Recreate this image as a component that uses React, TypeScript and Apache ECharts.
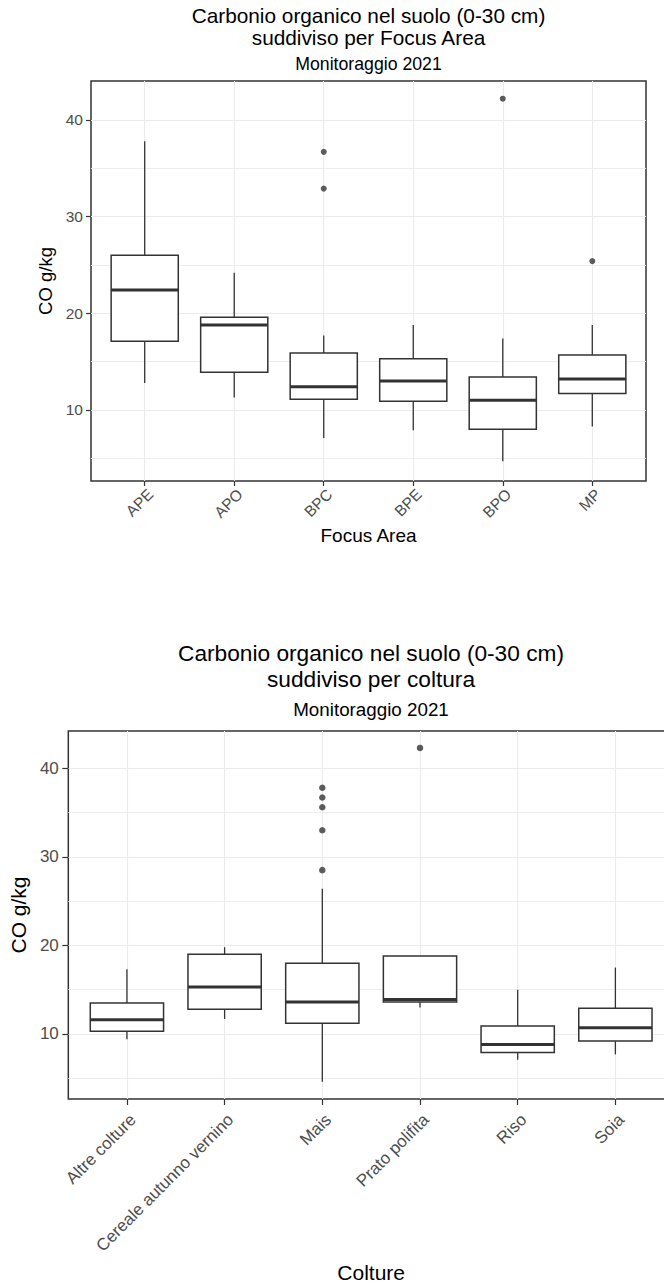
import React, { useEffect, useRef } from 'react';
import * as echarts from 'echarts';

// ---- Data: Focus Area chart ----
const focusAreas = ['APE', 'APO', 'BPC', 'BPE', 'BPO', 'MP'];
const focusLow = [12.8, 11.3, 7.1, 7.9, 4.7, 8.3];
const focusQ1 = [17.1, 13.9, 11.1, 10.9, 8.0, 11.7];
const focusMedian = [22.4, 18.8, 12.4, 13.0, 11.0, 13.2];
const focusQ3 = [26.0, 19.6, 15.9, 15.3, 13.4, 15.7];
const focusHigh = [37.8, 24.2, 17.7, 18.8, 17.4, 18.8];
const focusOutlierCats = ['BPC', 'BPC', 'BPO', 'MP'];
const focusOutlierValues = [36.7, 32.9, 42.2, 25.4];

// ---- Data: Colture chart ----
const crops = ['Altre colture', 'Cereale autunno vernino', 'Mais', 'Prato polifita', 'Riso', 'Soia'];
const cropLow = [9.4, 11.7, 4.6, 13.0, 7.1, 7.7];
const cropQ1 = [10.3, 12.8, 11.2, 13.6, 7.9, 9.2];
const cropMedian = [11.6, 15.3, 13.6, 13.9, 8.8, 10.7];
const cropQ3 = [13.5, 19.0, 18.0, 18.8, 10.9, 12.9];
const cropHigh = [17.3, 19.8, 26.4, 18.8, 15.0, 17.5];
const cropOutlierCats = ['Mais', 'Mais', 'Mais', 'Mais', 'Mais', 'Prato polifita'];
const cropOutlierValues = [37.8, 36.7, 35.6, 33.0, 28.5, 42.3];

// ---- Tick labels ----
const yTicks = [10, 20, 30, 40];
const yMinorTicks = [5, 15, 25, 35];

const FONT = "'Liberation Sans', Arial, Helvetica, sans-serif";
const DARK = '#333333';
const GRID = '#ebebeb';

function renderBox(params: any, api: any) {
  const x = api.value(0);
  const lo = api.coord([x, api.value(1)]);
  const q1 = api.coord([x, api.value(2)]);
  const md = api.coord([x, api.value(3)]);
  const q3 = api.coord([x, api.value(4)]);
  const hi = api.coord([x, api.value(5)]);
  const w = api.size([0.75, 0], [x, api.value(3)])[0];
  return {
    type: 'group',
    children: [
      { type: 'line', shape: { x1: lo[0], y1: lo[1], x2: q1[0], y2: q1[1] }, style: { stroke: DARK, lineWidth: 1.3 } },
      { type: 'line', shape: { x1: q3[0], y1: q3[1], x2: hi[0], y2: hi[1] }, style: { stroke: DARK, lineWidth: 1.3 } },
      { type: 'rect', shape: { x: md[0] - w / 2, y: q3[1], width: w, height: q1[1] - q3[1] }, style: { fill: '#ffffff', stroke: DARK, lineWidth: 1.5 } },
      { type: 'line', shape: { x1: md[0] - w / 2, y1: md[1], x2: md[0] + w / 2, y2: md[1] }, style: { stroke: DARK, lineWidth: 3 } },
    ],
  };
}

function buildPanel(idx: number, cats: string[], low: number[], q1: number[], med: number[], q3: number[], high: number[],
  outCats: string[], outVals: number[], cfg: any) {
  const catPos = cats.map((_, i) => i + 1);
  const grid = { left: cfg.left, top: cfg.top, width: cfg.width, height: cfg.height, show: true, borderColor: DARK, borderWidth: 1.5, backgroundColor: '#fff', containLabel: false };
  const xAxis = {
    type: 'value', gridIndex: idx, min: 0.4, max: 6.6,
    name: cfg.xName, nameLocation: 'middle', nameGap: cfg.xNameGap,
    nameTextStyle: { fontSize: cfg.xNameFont, color: '#000', fontFamily: FONT },
    axisLine: { show: false },
    axisTick: { show: true, customValues: catPos, length: cfg.tickLen, lineStyle: { color: DARK, width: 1.2 } },
    axisLabel: {
      customValues: catPos, rotate: 45, align: 'right', verticalAlign: 'top', margin: cfg.xLabelMargin,
      fontSize: cfg.tickFont, color: '#4d4d4d', fontFamily: FONT,
      formatter: (v: number) => cats[Math.round(v) - 1] || '',
    },
    splitLine: { show: true, lineStyle: { color: GRID, width: 1.1 } },
  };
  const yAxes = [
    {
      type: 'value', gridIndex: idx, min: cfg.yMin, max: cfg.yMax,
      name: 'CO g/kg', nameLocation: 'middle', nameGap: cfg.yNameGap,
      nameTextStyle: { fontSize: cfg.yNameFont, color: '#000', fontFamily: FONT },
      axisLine: { show: false },
      axisTick: { show: true, customValues: yTicks, length: cfg.tickLen, lineStyle: { color: DARK, width: 1.2 } },
      axisLabel: { customValues: yTicks, margin: cfg.yLabelMargin, fontSize: cfg.tickFont, color: '#4d4d4d', fontFamily: FONT },
      splitLine: { show: true, lineStyle: { color: GRID, width: 1.1 } },
    },
    {
      type: 'value', gridIndex: idx, min: cfg.yMin, max: cfg.yMax, position: 'left',
      axisLine: { show: false },
      axisTick: { show: false, customValues: yMinorTicks },
      axisLabel: { show: false, customValues: yMinorTicks },
      splitLine: { show: true, lineStyle: { color: GRID, width: 0.9 } },
    },
  ];
  const series = [
    {
      type: 'custom', xAxisIndex: idx, yAxisIndex: idx * 2, z: 2,
      renderItem: renderBox,
      encode: { x: 0, y: [1, 2, 3, 4, 5] },
      data: cats.map((_, i) => [i + 1, low[i], q1[i], med[i], q3[i], high[i]]),
    },
    {
      type: 'scatter', xAxisIndex: idx, yAxisIndex: idx * 2, z: 3,
      symbol: 'circle', symbolSize: cfg.outlierSize,
      itemStyle: { color: DARK },
      data: outCats.map((c, i) => [cats.indexOf(c) + 1, outVals[i]]),
    },
  ];
  const cx = cfg.left + cfg.width / 2;
  const titles = [
    {
      text: cfg.title, left: cx, top: cfg.titleTop, textAlign: 'center', padding: 0,
      textStyle: { fontSize: cfg.titleFont, lineHeight: cfg.titleLH, fontWeight: 'normal', color: '#000', fontFamily: FONT },
    },
    {
      text: 'Monitoraggio 2021', left: cx, top: cfg.subTop, textAlign: 'center', padding: 0,
      textStyle: { fontSize: cfg.subFont, lineHeight: 20, fontWeight: 'normal', color: '#000', fontFamily: FONT },
    },
  ];
  return { grid, xAxis, yAxes, series, titles };
}

export default function App() {
  const ref = useRef<HTMLDivElement>(null);
  useEffect(() => {
    if (!ref.current) return;
    const chart = echarts.init(ref.current, undefined, { renderer: 'svg' });
    const p1 = buildPanel(0, focusAreas, focusLow, focusQ1, focusMedian, focusQ3, focusHigh, focusOutlierCats, focusOutlierValues, {
      left: 91, top: 81, width: 555, height: 400, yMin: 2.655, yMax: 44.03,
      tickFont: 15.5, tickLen: 5, xLabelMargin: 5, yLabelMargin: 8,
      xName: 'Focus Area', xNameGap: 45, xNameFont: 19, yNameGap: 25, yNameFont: 18.5, outlierSize: 6,
      title: 'Carbonio organico nel suolo (0-30 cm)\nsuddiviso per Focus Area', titleTop: 4.4, titleFont: 20.8, titleLH: 22.3,
      subTop: 54.3, subFont: 17.7,
    });
    const p2 = buildPanel(1, crops, cropLow, cropQ1, cropMedian, cropQ3, cropHigh, cropOutlierCats, cropOutlierValues, {
      left: 68, top: 731, width: 606, height: 368, yMin: 2.66, yMax: 44.21,
      tickFont: 17, tickLen: 6, xLabelMargin: 12, yLabelMargin: 9.5,
      xName: 'Colture', xNameGap: 163, xNameFont: 21, yNameGap: 28, yNameFont: 21, outlierSize: 6.5,
      title: 'Carbonio organico nel suolo (0-30 cm)\nsuddiviso per coltura', titleTop: 639.8, titleFont: 22.7, titleLH: 26,
      subTop: 699.4, subFont: 18.8,
    });
    chart.setOption({
      animation: false,
      backgroundColor: '#ffffff',
      title: [...p1.titles, ...p2.titles],
      grid: [p1.grid, p2.grid],
      xAxis: [p1.xAxis, p2.xAxis],
      yAxis: [...p1.yAxes, ...p2.yAxes],
      series: [...p1.series, ...p2.series],
    });
    return () => chart.dispose();
  }, []);
  return (
    <div style={{ position: 'absolute', left: 0, top: 0, width: 664, height: 1285, overflow: 'hidden', background: '#fff' }}>
      <div ref={ref} style={{ width: 700, height: 1285 }} />
    </div>
  );
}
